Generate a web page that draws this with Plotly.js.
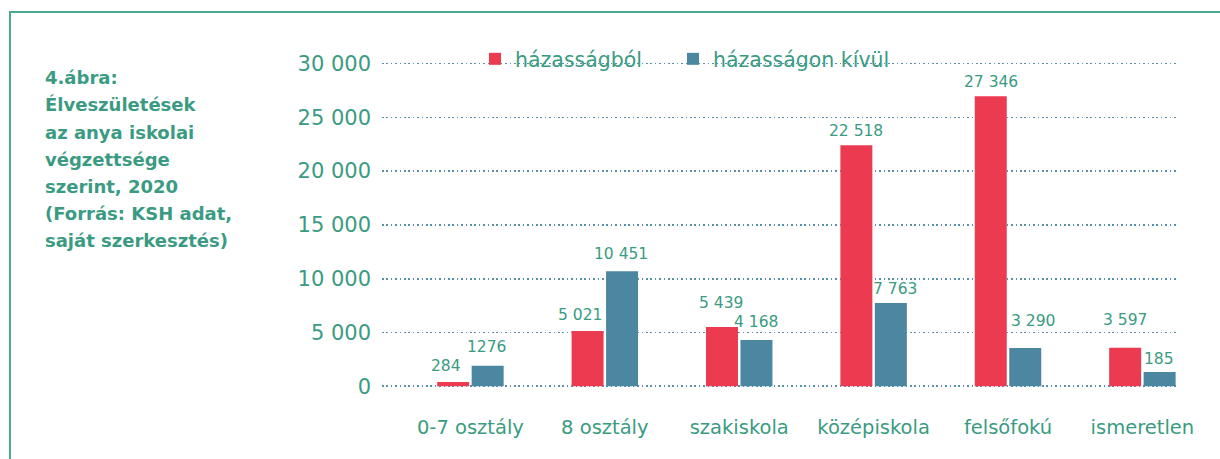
<!DOCTYPE html>
<html><head><meta charset="utf-8">
<script src="https://cdn.plot.ly/plotly-3.0.1.min.js"></script>
<style>html,body{margin:0;padding:0;background:#fff}</style>
</head><body><div id="chart" style="width:1220px;height:459px"></div>
<script>
// ---- data ----
const categories = ['0-7 osztály', '8 osztály', 'szakiskola', 'középiskola', 'felsőfokú', 'ismeretlen'];
const seriesNames = ['házasságból', 'házasságon kívül'];
const marriedValues = [400, 5130, 5500, 22400, 26950, 3580];
const unmarriedValues = [1910, 10700, 4300, 7740, 3560, 1330];
const marriedLabels = ['284', '5 021', '5 439', '22 518', '27 346', '3 597'];
const unmarriedLabels = ['1276', '10 451', '4 168', '7 763', '3 290', '185'];
const yTickValues = [0, 5000, 10000, 15000, 20000, 25000, 30000];
const titleLines = ['4.ábra:', 'Élveszületések', 'az anya iskolai', 'végzettsége', 'szerint, 2020', '(Forrás: KSH adat,', 'saját szerkesztés)'];

// ---- styling ----
const RED = '#ec3b51', BLUE = '#4b87a1', TEAL = '#3a9b82', FRAME = '#4aa98f';
const FONT = 'DejaVu Sans, sans-serif';
const W = 1220, H = 459, L = 382, R = 44, T = 62, B = 71;
const plotW = W - L - R, plotH = H - T - B;
const px2x = px => (px - L) / plotW;
const px2y = py => (H - B - py) / plotH;

// label placement tweaks (pixels): gap above bar, horizontal nudge
const marriedGap = [10, 10, 18, 8, 8, 21];
const unmarriedGap = [12, 11, 12, 8, 21, 7];
const marriedDx = [-7, -8, -1, 0, 0, 0];
const unmarriedDx = [-1, -1, 0, 4, 8, -1];
const halfSlot = 17.25;

const traces = [
  {type: 'bar', name: seriesNames[0], x: categories, y: marriedValues, legend: 'legend',
   marker: {color: RED}, hoverinfo: 'skip'},
  {type: 'bar', name: seriesNames[1], x: categories, y: unmarriedValues, legend: 'legend2',
   marker: {color: BLUE}, hoverinfo: 'skip'}
];

const annotations = [];
categories.forEach((c, i) => {
  annotations.push({x: c, y: marriedValues[i], xref: 'x', yref: 'y', text: marriedLabels[i],
    showarrow: false, yanchor: 'bottom', xanchor: 'center',
    xshift: -halfSlot + marriedDx[i], yshift: marriedGap[i] - 4.7,
    font: {family: FONT, size: 15.5, color: TEAL}});
  annotations.push({x: c, y: unmarriedValues[i], xref: 'x', yref: 'y', text: unmarriedLabels[i],
    showarrow: false, yanchor: 'bottom', xanchor: 'center',
    xshift: halfSlot + unmarriedDx[i], yshift: unmarriedGap[i] - 4.7,
    font: {family: FONT, size: 15.5, color: TEAL}});
});
titleLines.forEach((t, i) => {
  const baseline = 85 + i * 27.2;
  annotations.push({x: px2x(43), y: px2y(baseline + 5.2), xref: 'paper', yref: 'paper',
    text: t, showarrow: false, xanchor: 'left', yanchor: 'bottom',
    font: {family: FONT, size: 18, color: TEAL, weight: 'bold'}});
});

const shapes = [
  {type: 'line', xref: 'paper', yref: 'paper', x0: px2x(9), x1: px2x(1225), y0: px2y(12), y1: px2y(12),
   line: {color: FRAME, width: 2}},
  {type: 'line', xref: 'paper', yref: 'paper', x0: px2x(10), x1: px2x(10), y0: px2y(12), y1: px2y(465),
   line: {color: FRAME, width: 2}},
  {type: 'rect', xref: 'paper', yref: 'paper', layer: 'between', x0: px2x(471), x1: px2x(905),
   y0: px2y(69), y1: px2y(57), fillcolor: '#ffffff', line: {width: 0}}
];

const legendBase = {orientation: 'h', xanchor: 'left', y: px2y(59), yanchor: 'middle',
  font: {family: FONT, size: 20.5, color: TEAL}, bgcolor: 'rgba(0,0,0,0)',
  itemclick: false, itemdoubleclick: false};

const layout = {
  width: W, height: H,
  margin: {l: L, r: R, t: T, b: B, pad: 0},
  paper_bgcolor: '#ffffff', plot_bgcolor: '#ffffff',
  separators: ', ',
  barmode: 'group', bargap: 0.487, bargroupgap: 0.072,
  font: {family: FONT, color: TEAL},
  showlegend: true,
  legend: Object.assign({}, legendBase, {x: px2x(475)}),
  legend2: Object.assign({}, legendBase, {x: px2x(673)}),
  xaxis: {type: 'category', range: [-0.658, 5.25], showgrid: false, zeroline: false, showline: false,
    ticks: '', tickfont: {family: FONT, size: 19.5, color: TEAL}, ticklabelstandoff: 25, fixedrange: true},
  yaxis: {range: [-158, 30139], tickvals: yTickValues, tickformat: ',d', showgrid: true,
    gridcolor: '#5a8fab', gridwidth: 1.6, griddash: '1.6px,2.8px', zeroline: false, showline: false,
    ticks: '', tickfont: {family: FONT, size: 21, color: TEAL}, ticklabelstandoff: 10, fixedrange: true},
  annotations: annotations,
  shapes: shapes
};

Plotly.newPlot('chart', traces, layout, {displayModeBar: false, staticPlot: true});
</script>
</body></html>
